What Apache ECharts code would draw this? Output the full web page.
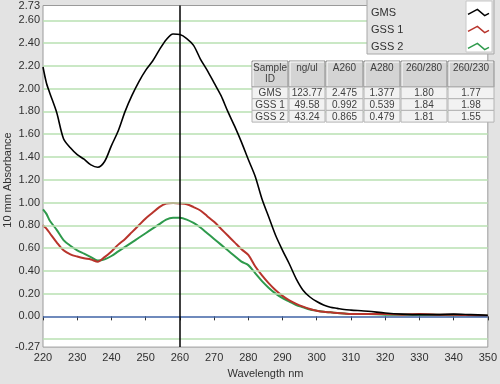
<!DOCTYPE html>
<html><head><meta charset="utf-8">
<script src="https://cdn.jsdelivr.net/npm/echarts@6/dist/echarts.min.js"></script>
<style>html,body{margin:0;padding:0;background:#e3e3e3;}#c{width:500px;height:384px;}</style>
</head><body><div id="c"></div>
<script>
const wavelengths = [220,221,222,224,226,228,230,232,234,236,238,240,242,244,246,248,250,252,254,256,258,260,262,264,266,268,270,272,274,276,278,280,282,284,286,288,290,292,294,296,298,300,302,304,306,308,310,315,320,325,330,335,340,345,350];
const gms  = [2.19,2.05,1.96,1.79,1.56,1.48,1.42,1.38,1.33,1.31,1.36,1.50,1.63,1.80,1.94,2.06,2.16,2.24,2.34,2.43,2.48,2.475,2.44,2.38,2.26,2.16,2.05,1.94,1.80,1.67,1.53,1.377,1.23,1.03,0.87,0.71,0.58,0.46,0.33,0.23,0.17,0.13,0.10,0.08,0.07,0.06,0.055,0.045,0.03,0.02,0.015,0.015,0.02,0.015,0.01];
const gss1 = [0.80,0.77,0.73,0.65,0.58,0.545,0.525,0.51,0.50,0.48,0.52,0.57,0.63,0.68,0.74,0.80,0.86,0.91,0.96,0.99,0.995,0.992,0.985,0.96,0.93,0.88,0.83,0.77,0.71,0.65,0.59,0.539,0.44,0.36,0.29,0.23,0.18,0.14,0.11,0.085,0.065,0.05,0.04,0.035,0.03,0.025,0.02,0.02,0.02,0.015,0.02,0.015,0.015,0.01,0.005];
const gss2 = [0.94,0.90,0.84,0.76,0.67,0.62,0.58,0.55,0.52,0.49,0.50,0.53,0.57,0.61,0.65,0.69,0.73,0.77,0.81,0.85,0.865,0.865,0.85,0.82,0.78,0.73,0.68,0.63,0.58,0.53,0.48,0.45,0.38,0.31,0.25,0.20,0.16,0.13,0.10,0.08,0.06,0.05,0.04,0.035,0.03,0.025,0.02,0.02,0.015,0.015,0.015,0.015,0.01,0.01,0.005];
const seriesNames = ['GMS','GSS 1','GSS 2'];
const seriesColors = ['#000000','#b8342c','#2e9a4c'];
const yTickLabels = [-0.27,0,0.2,0.4,0.6,0.8,1.0,1.2,1.4,1.6,1.8,2.0,2.2,2.4,2.6,2.73];
const gridValues = [-0.2,0.2,0.4,0.6,0.8,1.0,1.2,1.4,1.6,1.8,2.0,2.2,2.4,2.6];
const xTicks = [220,230,240,250,260,270,280,290,300,310,320,330,340,350];
const markerWavelength = 260;
const tableHeaders = ['Sample\nID','ng/ul','A260','A280','260/280','260/230'];
const tableSamples = ['GMS','GSS 1','GSS 2'];
const tableNgul = ['123.77','49.58','43.24'];
const tableA260 = ['2.475','0.992','0.865'];
const tableA280 = ['1.377','0.539','0.479'];
const tableR280 = ['1.80','1.84','1.81'];
const tableR230 = ['1.77','1.98','1.55'];

const FONT = 'Liberation Sans';
const pair = arr => wavelengths.map((w,i)=>[w,arr[i]]);

const colX = [252,289,326,364,401,448,495];
const headTop = 61, headBot = 87, rowH = 11.7;
const g = [];
g.push({type:'rect',shape:{x:367,y:-1,width:127,height:55},style:{fill:'#e3e3e3',stroke:'#a8a8a8',lineWidth:1},z:50});
g.push({type:'rect',shape:{x:466,y:1,width:26,height:51},style:{fill:'#ffffff',stroke:'#c8c8c8',lineWidth:1},z:51});
const rows = tableSamples.map((s,i)=>[s,tableNgul[i],tableA260[i],tableA280[i],tableR280[i],tableR230[i]]);
for (let c=0;c<6;c++){
  const x0=colX[c], w=colX[c+1]-colX[c]-1;
  g.push({type:'rect',shape:{x:x0,y:headTop,width:w,height:headBot-headTop},style:{fill:'#d4d4d4',stroke:'#8c8c8c',lineWidth:1},z:50});
  g.push({type:'polyline',shape:{points:[[x0+1,headBot-1],[x0+1,headTop+1],[x0+w-1,headTop+1]]},style:{stroke:'#ffffff',lineWidth:1},z:51});
  g.push({type:'text',style:{x:x0+w/2,y:headTop+2,text:tableHeaders[c],align:'center',verticalAlign:'top',font:'10px "'+FONT+'"',fill:'#404040',lineHeight:11},z:52});
  for (let r=0;r<3;r++){
    const y0=headBot+r*rowH;
    g.push({type:'rect',shape:{x:x0,y:y0,width:w,height:rowH},style:{fill:'#f2f2f2',stroke:'#b4b4b4',lineWidth:1},z:50});
    g.push({type:'text',style:{x:x0+w/2,y:y0+rowH/2+0.5,text:rows[r][c],align:'center',verticalAlign:'middle',font:'10px "'+FONT+'"',fill:'#404040'},z:52});
  }
}
g.push({type:'text',rotation:Math.PI/2,x:8,y:180,style:{text:'10 mm Absorbance',align:'center',verticalAlign:'middle',font:'11px "'+FONT+'"',fill:'#303030'},z:10});

const legendIcon = 'path://M0,5 L9.4,0 L16.7,6.3 L21,4';
const chart = echarts.init(document.getElementById('c'), null, {renderer:'canvas'});
chart.setOption({
  animation:false,
  backgroundColor:'#e3e3e3',
  textStyle:{fontFamily:FONT},
  grid:{left:43,right:6,top:5,bottom:30,show:true,backgroundColor:'#ffffff',borderColor:'#9a9a9a',borderWidth:1},
  xAxis:{type:'value',min:220,max:350,interval:10,
    name:'Wavelength nm',nameLocation:'middle',nameGap:17,nameTextStyle:{fontSize:11,color:'#303030',fontFamily:FONT},
    axisLine:{show:false},splitLine:{show:false},
    axisTick:{show:true,length:4,lineStyle:{color:'#303030'},customValues:xTicks},
    axisLabel:{fontSize:11,color:'#303030',margin:5,fontFamily:FONT,customValues:xTicks}},
  yAxis:{type:'value',min:-0.27,max:2.73,
    axisLine:{show:false},splitLine:{show:false},axisTick:{show:false,customValues:yTickLabels},
    axisLabel:{fontSize:11,color:'#303030',margin:3,fontFamily:FONT,customValues:yTickLabels,formatter:v=>v.toFixed(2)}},
  legend:{orient:'vertical',left:366,top:1,padding:5,itemWidth:21,itemHeight:7,itemGap:4,align:'right',
    formatter:'{a|{name}}',
    textStyle:{fontSize:11,color:'#303030',fontFamily:FONT,rich:{a:{width:92,height:13,lineHeight:13,align:'left',fontSize:11,color:'#303030',fontFamily:FONT}}},
    data:seriesNames.map((n,i)=>({name:n,icon:legendIcon,itemStyle:{color:'rgba(0,0,0,0)',borderColor:seriesColors[i],borderWidth:1.5}})),z:60},
  graphic:g,
  series:[
    {name:'grid',type:'line',data:[],z:1,silent:true,
     markLine:{silent:true,symbol:['none','none'],label:{show:false},animation:false,
       data:gridValues.map(v=>({yAxis:v,lineStyle:{color:'#b8e0b2',width:1.5,type:'solid'}})).concat([{yAxis:0,lineStyle:{color:'#3f63a6',width:1.5,type:'solid'}}])}},
    {name:'GSS 2',type:'line',data:pair(gss2),showSymbol:false,smooth:0.3,lineStyle:{color:seriesColors[2],width:2},itemStyle:{color:seriesColors[2]},z:3},
    {name:'GSS 1',type:'line',data:pair(gss1),showSymbol:false,smooth:0.3,lineStyle:{color:seriesColors[1],width:2},itemStyle:{color:seriesColors[1]},z:4},
    {name:'GMS',type:'line',data:pair(gms),showSymbol:false,smooth:0.3,lineStyle:{color:seriesColors[0],width:1.6},itemStyle:{color:seriesColors[0]},z:5,
     markLine:{silent:true,symbol:['none','none'],label:{show:false},animation:false,data:[{xAxis:markerWavelength,lineStyle:{color:'#000',width:1.5,type:'solid'}}]}}
  ]
});
</script></body></html>
